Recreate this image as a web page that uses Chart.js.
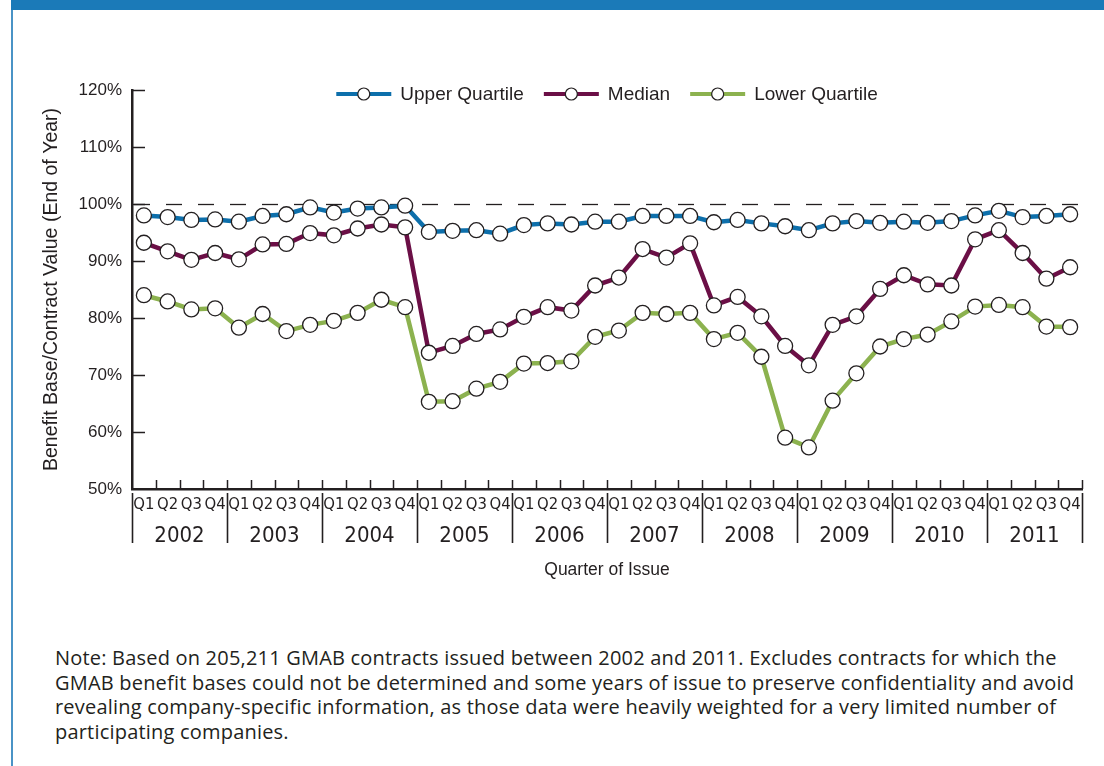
<!DOCTYPE html>
<html>
<head>
<meta charset="utf-8">
<script src="https://cdn.jsdelivr.net/npm/chart.js@4.4.1/dist/chart.umd.min.js"></script>
<style>
  html,body{margin:0;padding:0;background:#fff;}
  body{width:1104px;height:766px;position:relative;overflow:hidden;}
  #banner{position:absolute;left:11px;top:0;width:1093px;height:10px;background:#1b7ab8;}
  #leftrule{position:absolute;left:11px;top:10px;width:2px;height:756px;background:#4a93c6;}
  #wrap{position:absolute;left:0;top:0;width:1104px;height:600px;}
  #note{position:absolute;left:55px;top:646px;font-family:'Open Sans',sans-serif;font-size:20px;letter-spacing:0.2px;line-height:24.6px;color:#231f20;white-space:nowrap;}
</style>
</head>
<body>
<div id="banner"></div>
<div id="leftrule"></div>
<div id="wrap"><canvas id="c" width="1104" height="600"></canvas></div>
<div id="note">Note: Based on 205,211 GMAB contracts issued between 2002 and 2011. Excludes contracts for which the<br>GMAB benefit bases could not be determined and some years of issue to preserve confidentiality and avoid<br>revealing company-specific information, as those data were heavily weighted for a very limited number of<br>participating companies.</div>
<script>
// ---------------- data ----------------
const years = ['2002','2003','2004','2005','2006','2007','2008','2009','2010','2011'];
const quarters = ['Q1','Q2','Q3','Q4'];
const quarterLabels = [];
years.forEach(() => quarters.forEach(q => quarterLabels.push(q)));

const upperQuartile = [
  98.0, 97.7, 97.2, 97.3,
  96.9, 97.9, 98.2, 99.4,
  98.5, 99.2, 99.4, 99.7,
  95.1, 95.3, 95.4, 94.8,
  96.3, 96.6, 96.4, 96.9,
  96.9, 97.9, 97.9, 97.9,
  96.8, 97.2, 96.6, 96.1,
  95.4, 96.6, 97.0, 96.7,
  96.9, 96.7, 97.0, 98.0,
  98.8, 97.7, 97.9, 98.2
];
const median = [
  93.2, 91.7, 90.2, 91.4,
  90.3, 92.9, 93.0, 94.9,
  94.5, 95.7, 96.4, 95.9,
  73.9, 75.1, 77.2, 78.0,
  80.2, 81.9, 81.3, 85.7,
  87.1, 92.1, 90.6, 93.1,
  82.2, 83.7, 80.3, 75.1,
  71.7, 78.8, 80.3, 85.1,
  87.5, 85.9, 85.7, 93.8,
  95.4, 91.4, 86.9, 88.9
];
const lowerQuartile = [
  84.0, 82.9, 81.5, 81.7,
  78.3, 80.7, 77.7, 78.8,
  79.5, 80.9, 83.2, 81.9,
  65.3, 65.4, 67.6, 68.8,
  72.0, 72.1, 72.4, 76.7,
  77.8, 80.9, 80.7, 80.9,
  76.3, 77.4, 73.2, 59.0,
  57.3, 65.5, 70.3, 75.0,
  76.3, 77.1, 79.4, 82.0,
  82.3, 81.9, 78.5, 78.4
];
const yMin = 50, yMax = 120, yStep = 10;
const referenceLine = 100;
const seriesNames = ['Upper Quartile','Median','Lower Quartile'];

// ---------------- style ----------------
const INK = '#231f20';
const BLUE = '#0d6fab', PURPLE = '#6b0f46', GREEN = '#8cb24f';
const SANS = "'Liberation Sans', Arial, sans-serif";
const NARROW = "'DejaVu Sans Condensed', 'Liberation Sans', sans-serif";

function ds(label, data, color){
  return {
    label, data, xAxisID:'x', yAxisID:'y',
    borderColor: color, backgroundColor: color, borderWidth: 4.5, tension: 0,
    pointRadius: 7.5, pointHoverRadius: 7.5, pointBackgroundColor: '#fff',
    pointBorderColor: INK, pointBorderWidth: 1.3, clip: false
  };
}

const decor = {
  id: 'decor',
  beforeDatasetsDraw(chart){
    const {ctx, chartArea:a, scales:{y}} = chart;
    const py = Math.round(y.getPixelForValue(referenceLine)) + 0.5;
    ctx.save();
    ctx.strokeStyle = INK; ctx.lineWidth = 1.3; ctx.setLineDash([16,16]);
    ctx.beginPath(); ctx.moveTo(a.left + 2, py); ctx.lineTo(a.right, py); ctx.stroke();
    ctx.restore();
  },
  afterDraw(chart){
    const {ctx, chartArea:a, scales:{x,y}} = chart;
    ctx.save();
    ctx.strokeStyle = INK; ctx.lineWidth = 1.5;
    // inward y ticks
    y.ticks.forEach(t => {
      if (t.value === yMin) return;
      const py = Math.round(y.getPixelForValue(t.value)) + 0.5;
      ctx.beginPath(); ctx.moveTo(a.left, py); ctx.lineTo(a.left + 13, py); ctx.stroke();
    });
    // upward x ticks at category boundaries
    const n = quarterLabels.length;
    const w = x.getPixelForValue(1) - x.getPixelForValue(0);
    for (let i = 1; i <= n; i++){
      const px = Math.round(x.getPixelForValue(i - 1) + w/2) + 0.5;
      ctx.beginPath(); ctx.moveTo(px, a.bottom); ctx.lineTo(px, a.bottom - 9); ctx.stroke();
    }
    // year separators
    ctx.lineWidth = 1.6;
    for (let k = 0; k <= years.length; k++){
      const px = Math.round(x.getPixelForValue(Math.min(4*k, n-1)) + (k === years.length ? w/2 : -w/2)) + 0.5;
      ctx.beginPath(); ctx.moveTo(px, a.bottom + 4); ctx.lineTo(px, a.bottom + 54); ctx.stroke();
    }
    // legend
    ctx.font = '19px ' + SANS;
    ctx.textBaseline = 'middle';
    const lineW = 55, gapText = 9, gapItem = 20;
    const items = chart.data.datasets.map(d => ({label:d.label, color:d.borderColor, tw: ctx.measureText(d.label).width}));
    let total = items.reduce((s,it) => s + lineW + gapText + it.tw, 0) + gapItem*(items.length-1);
    let cx = (a.left + a.right)/2 - total/2;
    const ly = 94;
    items.forEach(it => {
      ctx.strokeStyle = it.color; ctx.lineWidth = 4;
      ctx.beginPath(); ctx.moveTo(cx, ly); ctx.lineTo(cx + lineW, ly); ctx.stroke();
      ctx.beginPath(); ctx.arc(cx + lineW/2, ly, 6, 0, Math.PI*2);
      ctx.fillStyle = '#fff'; ctx.fill();
      ctx.strokeStyle = INK; ctx.lineWidth = 1.2; ctx.stroke();
      ctx.fillStyle = INK; ctx.textAlign = 'left';
      ctx.fillText(it.label, cx + lineW + gapText, ly + 1);
      cx += lineW + gapText + it.tw + gapItem;
    });
    ctx.restore();
  }
};

new Chart(document.getElementById('c'), {
  type: 'line',
  data: {
    labels: quarterLabels,
    datasets: [
      ds(seriesNames[0], upperQuartile, BLUE),
      ds(seriesNames[1], median, PURPLE),
      ds(seriesNames[2], lowerQuartile, GREEN)
    ]
  },
  options: {
    responsive: false, animation: false, devicePixelRatio: 1,
    layout: {padding: {top: 90, right: 22, bottom: 0, left: 0}},
    plugins: {legend: {display: false}, tooltip: {enabled: false}},
    events: [],
    scales: {
      x: {
        type: 'category', labels: quarterLabels, offset: true, position: 'bottom',
        grid: {display: false, drawTicks: false},
        border: {display: true, color: INK, width: 2.5},
        ticks: {autoSkip: false, maxRotation: 0, minRotation: 0, padding: 6, color: INK, font: {family: NARROW, size: 16.5}},
        afterFit(s){ s.height = 26; }
      },
      xYear: {
        type: 'category', labels: years, offset: true, position: 'bottom',
        grid: {display: false, drawTicks: false},
        border: {display: false},
        ticks: {autoSkip: false, maxRotation: 0, padding: 8, color: INK, font: {family: NARROW, size: 22}},
        title: {display: true, text: 'Quarter of Issue', color: INK, font: {family: SANS, size: 17.5}, padding: {top: 0, bottom: 19}},
        afterFit(s){ s.height = 85; }
      },
      y: {
        type: 'linear', min: yMin, max: yMax,
        grid: {display: false, drawTicks: false},
        border: {display: true, color: INK, width: 2.5},
        ticks: {stepSize: yStep, padding: 10, color: INK, font: {family: SANS, size: 17}, callback: v => v + '%'},
        title: {display: true, text: 'Benefit Base/Contract Value (End of Year)', color: INK, font: {family: SANS, size: 19.5}, padding: {top: 40, bottom: 0}},
        afterFit(s){ s.width = 132; }
      }
    }
  },
  plugins: [decor]
});
</script>
</body>
</html>
